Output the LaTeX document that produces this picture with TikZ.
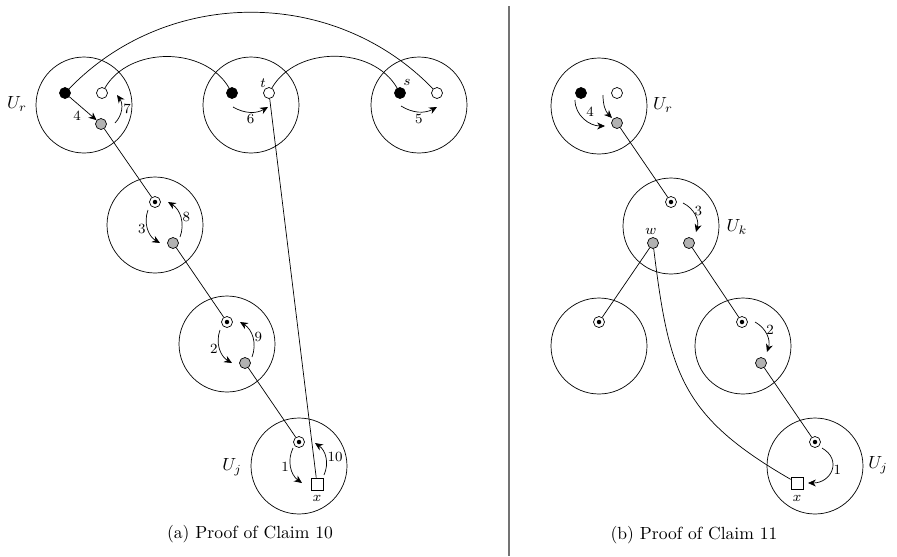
\documentclass[tikz,border=0pt]{standalone}
\usetikzlibrary{arrows.meta,calc}
\begin{document}
\begin{tikzpicture}[x=0.02cm, y=-0.02cm,
    area/.style={circle, draw, minimum size=1.92cm, inner sep=0},
    blk/.style={circle, draw, fill=black, minimum size=0.22cm, inner sep=0},
    wht/.style={circle, draw, fill=white, minimum size=0.22cm, inner sep=0},
    gry/.style={circle, draw, fill=black!30, minimum size=0.22cm, inner sep=0},
    ctr/.style={circle, draw, fill=white, minimum size=0.22cm, inner sep=0},
    sq/.style={rectangle, draw, fill=white, minimum size=0.24cm, inner sep=0},
    arr/.style={-{Stealth[length=4.5pt,width=4pt]}},
    num/.style={font=\footnotesize, inner sep=1pt},
    lbl/.style={font=\footnotesize, inner sep=0}]
    \useasboundingbox (0,0) rectangle (897,556);

    % (a) proof of claim 10
    \foreach \n/\x/\y in {A1/84/105, A2/251/105, A3/419/105,
                          A4/155/225, A5/227/344, A6/299/466}
        \node[area] (\n) at (\x,\y) {};

    \node[blk] (b1) at (65,93) {};
    \node[wht] (w1) at (102,93) {};
    \node[gry] (g1) at (101,124) {};
    \node[blk] (b2) at (232,93) {};
    \node[wht] (t) at (269,93) {};
    \node[blk] (s) at (400,93) {};
    \node[wht] (w3) at (437,93) {};
    \node[ctr] (d2) at (155,202) {};
    \node[gry] (g2) at (173,243) {};
    \node[ctr] (d3) at (227,322) {};
    \node[gry] (g3) at (245,363) {};
    \node[ctr] (d4) at (299,442) {};
    \node[sq] (xa) at (317,484) {};

    \node (lUr) at (17,104) {$U_r$};
    \node (lUj) at (232,467) {$U_j$};
    \node[lbl] (lt) at (263,83) {$t$};
    \node[lbl] (ls) at (407,82) {$s$};
    \node[lbl] (lxa) at (317,498) {$x$};

    \draw (w1) to[out=60,in=120] (b2);
    \draw (t) to[out=60,in=120] (s);
    \draw (b1) to[out=46,in=134] (w3);
    \draw (g1) -- (d2);
    \draw (g2) -- (d3);
    \draw (g3) -- (d4);
    \draw (t) -- (xa);

    \draw[arr] (b1) -- node[num, below left] {4} (g1);
    \draw[arr] ($(g1)+(14,-1)$) to[bend right=40] node[num, right] {7} ($(w1)+(15,2)$);
    \draw[arr] ($(b2)+(1,14)$) to[bend right=30] node[num, below] {6} ($(t)+(-1,14)$);
    \draw[arr] ($(s)+(1,13)$) to[bend right=30] node[num, below] {5} ($(w3)+(0,14)$);
    \draw[arr] ($(d2)+(-7,8)$) to[bend right=40] node[num, left] {3} ($(g2)+(-13,0)$);
    \draw[arr] ($(g2)+(7,-6)$) to[bend right=40] node[num, right] {8} ($(d2)+(13,0)$);
    \draw[arr] ($(d3)+(-7,8)$) to[bend right=40] node[num, left] {2} ($(g3)+(-13,0)$);
    \draw[arr] ($(g3)+(7,-6)$) to[bend right=40] node[num, right] {9} ($(d3)+(13,0)$);
    \draw[arr] ($(d4)+(-6,6)$) to[bend right=40] node[num, left] {1} ($(xa)+(-15,-1)$);
    \draw[arr] ($(xa)+(7,-9)$) to[bend right=40] node[num, right] {10} ($(d4)+(16,1)$);

    \node (capa) at (250,534) {(a) Proof of Claim 10};

    \draw[black!55, line width=0.8pt] (509,6) -- (509,556);

    % (b) proof of claim 11
    \foreach \n/\x/\y in {B1/599/106, B2/671/226, B3/599/346,
                          B4/743/346, B5/815/466}
        \node[area] (\n) at (\x,\y) {};

    \node[blk] (rb) at (581,93) {};
    \node[wht] (rw) at (617,93) {};
    \node[gry] (rg) at (617,123) {};
    \node[ctr] (dk) at (671,202) {};
    \node[gry] (w) at (653,243) {};
    \node[gry] (gk) at (689,243) {};
    \node[ctr] (dl) at (599,322) {};
    \node[ctr] (dm) at (742,322) {};
    \node[gry] (gm) at (761,363) {};
    \node[ctr] (dj) at (815,442) {};
    \node[sq] (xb) at (797,483) {};

    \node (lUr2) at (663,105) {$U_r$};
    \node (lUk) at (737,227) {$U_k$};
    \node (lUj2) at (878,465) {$U_j$};
    \node[lbl] (lw) at (651,231) {$w$};
    \node[lbl] (lxb) at (797,498) {$x$};

    \draw (rg) -- (dk);
    \draw (w) -- (dl);
    \draw (gk) -- (dm);
    \draw (gm) -- (dj);
    \draw (w) to[out=-83,in=150,looseness=1.2] (xb);

    \draw[arr] ($(rb)+(-6,7)$) to[out=-90,in=180] node[num, above right] {4} ($(rg)+(-12,3)$);
    \draw[arr] ($(rw)+(-14,2)$) to[out=-90,in=135] ($(rg)+(-5,-5)$);
    \draw[arr] ($(dk)+(12,1)$) to[bend left=40] node[num, right, pos=0.35] {3} ($(gk)+(7,-11)$);
    \draw[arr] ($(dm)+(13,0)$) to[bend left=40] node[num, right, pos=0.35] {2} ($(gm)+(6,-11)$);
    \draw[arr] ($(dj)+(7,6)$) to[out=-30,in=0,looseness=1.6] node[num, right] {1} ($(xb)+(11,0)$);

    % centre dots
    \foreach \n in {d2,d3,d4,dk,dl,dm,dj}
        \fill (\n) circle (0.045cm);

    \node (capb) at (694,535) {(b) Proof of Claim 11};
\end{tikzpicture}
\end{document}
